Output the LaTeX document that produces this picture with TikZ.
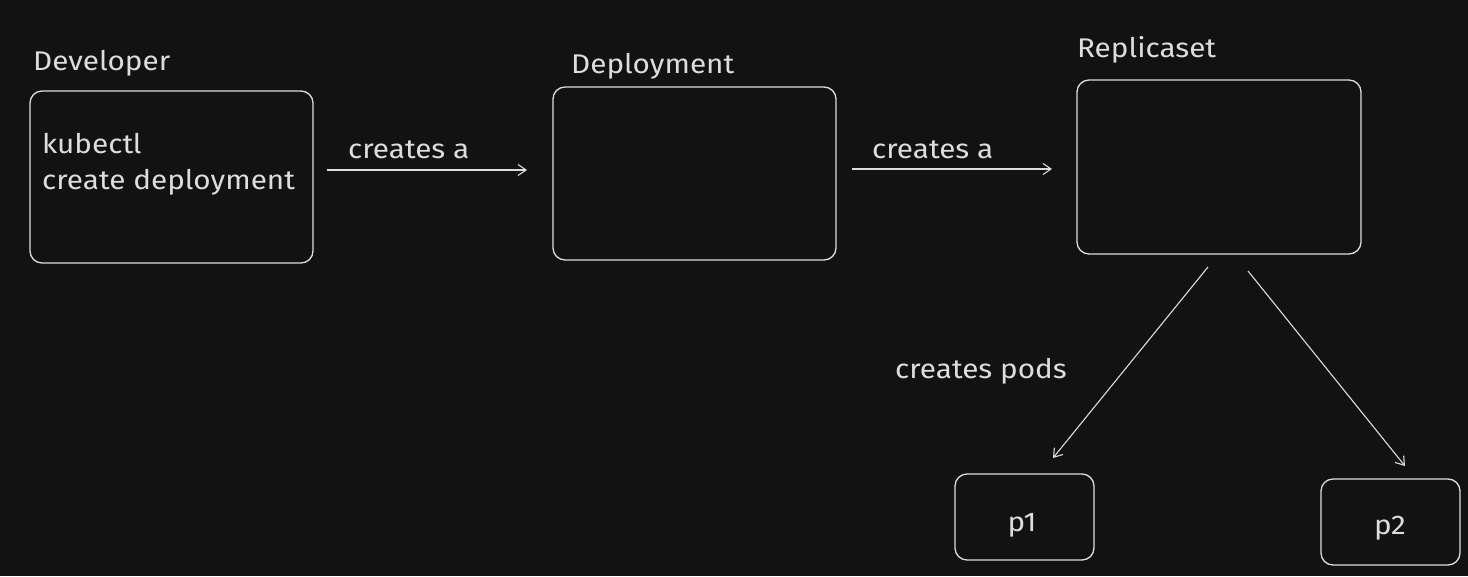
\documentclass[tikz,border=0pt]{standalone}
\usepackage{fontspec}
\setmainfont{Fira Sans}[FakeStretch=1.1]
\usetikzlibrary{arrows.meta}
\definecolor{bg}{HTML}{121212}
\definecolor{ink}{HTML}{DDDDDD}
\begin{document}
\begin{tikzpicture}[x=1pt,y=-1pt,
  box/.style={draw=ink,line width=1.3pt,rounded corners=12pt,inner sep=0pt},
  lbl/.style={text=ink,font=\fontsize{27}{32}\selectfont,anchor=base west,inner sep=0pt},
  ptxt/.style={text=ink,font=\fontsize{27}{32}\selectfont,anchor=base,inner sep=0pt},
  conn/.style={draw=ink,line width=1.1pt,-{Straight Barb[length=8pt,width=11pt,line width=1.1pt]}}]
\fill[bg] (0,0) rectangle (1468,576);
\useasboundingbox (0,0) rectangle (1468,576);
% boxes
\node[box,minimum width=283pt,minimum height=172pt] (dev) at (171.5,177) {};
\node[box,minimum width=283pt,minimum height=173pt] (dep) at (694.5,173.5) {};
\node[box,minimum width=284pt,minimum height=174pt] (rs) at (1219,167) {};
\node[box,minimum width=139pt,minimum height=86pt] (p1) at (1024.5,517) {};
\node[box,minimum width=139pt,minimum height=86pt] (p2) at (1390.5,522) {};
% labels
\node[lbl] (devl) at (33,70) {Developer};
\node[lbl] (depl) at (571,73) {Deployment};
\node[lbl] (rsl) at (1077,57) {Replicaset};
\node[lbl] (k1) at (42,153) {kubectl};
\node[lbl] (k2) at (42,189) {create deployment};
\node[lbl] (c1) at (348,158) {creates a};
\node[lbl] (c2) at (872,158) {creates a};
\node[lbl] (cp) at (895,378) {creates pods};
\node[ptxt] (p1t) at (1022,531) {p1};
\node[ptxt] (p2t) at (1390,534) {p2};
% connector ends
\coordinate (a1s) at (327,170);
\coordinate (a1e) at (527,170);
\coordinate (a2s) at (852,169);
\coordinate (a2e) at (1052,169);
\coordinate (a3s) at (1208,267);
\coordinate (a3e) at (1053,458);
\coordinate (a4s) at (1248,271);
\coordinate (a4e) at (1405,466);
\draw[conn] (a1s) -- (a1e);
\draw[conn] (a2s) -- (a2e);
\draw[conn] (a3s) -- (a3e);
\draw[conn] (a4s) -- (a4e);
\end{tikzpicture}
\end{document}
